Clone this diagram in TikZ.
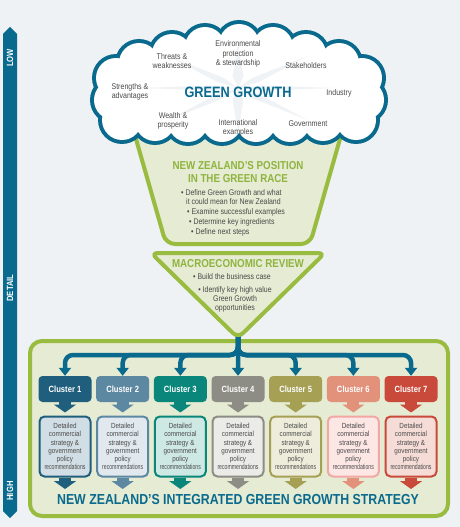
\documentclass[tikz,border=0pt]{standalone}
\usepackage{fontspec}
\usepackage{graphicx}
\setmainfont{Liberation Sans}[FakeStretch=0.85]
\usetikzlibrary{arrows.meta,calc}
\definecolor{bgc}{HTML}{EEF2F5}
\definecolor{nzblue}{HTML}{0A6A8E}
\definecolor{nzgreen}{HTML}{99BB3F}
\definecolor{paleg}{HTML}{E6EBD3}
\definecolor{titleg}{HTML}{8EB43F}
\definecolor{txtgray}{HTML}{4A4A4A}
\definecolor{rayc}{HTML}{F0F3F6}
\definecolor{cA}{HTML}{1F5E7C}\definecolor{fA}{HTML}{D2DEE5}
\definecolor{cB}{HTML}{5D88A2}\definecolor{fB}{HTML}{E1E9EF}
\definecolor{cC}{HTML}{0A867A}\definecolor{fC}{HTML}{CEE8E4}
\definecolor{cD}{HTML}{8E8D85}\definecolor{fD}{HTML}{EBEBE8}
\definecolor{cE}{HTML}{A6A055}\definecolor{fE}{HTML}{EEEDDC}
\definecolor{cF}{HTML}{E2917B}\definecolor{fF}{HTML}{FCE7E5}\definecolor{eF}{HTML}{F1A7A3}
\definecolor{cG}{HTML}{C9493B}\definecolor{fG}{HTML}{F5DCD7}
\newcommand{\puffs}{139/63,172/54,205/47,239/44,273/47,306/54,339/63,362/78,364/100,356/120,
	323/121,290/122,256/122,222/122,188/122,155/121,122/120,114/100,116/78}
\begin{document}
\begin{tikzpicture}[x=1pt, y=-1pt,
	lbl/.style={text=txtgray, font=\fontsize{8.3}{9.5}\selectfont, align=center, inner sep=0},
	bul/.style={text=txtgray, font=\fontsize{8.2}{10}\selectfont, anchor=west, inner sep=0},
	ttl/.style={text=titleg, font=\bfseries\fontsize{11.5}{12.5}\selectfont, align=center, inner sep=0},
	side/.style={rotate=90, text=white, font=\bfseries\fontsize{9}{10}\selectfont, inner sep=0},
	panel/.style={draw=nzgreen, line width=4pt, fill=paleg},
	tree/.style={draw=nzblue, line width=4.5pt, rounded corners=8pt, -{Triangle[width=12pt,length=8pt]}},
	head/.style={rounded corners=4pt, minimum width=53pt, minimum height=26pt, inner sep=0, text=white, font=\bfseries\fontsize{9}{10}\selectfont},
	detail/.style={rounded corners=5pt, line width=2pt, minimum width=51pt, minimum height=60pt, inner sep=0, text=txtgray, align=center, font=\fontsize{7.4}{8.2}\selectfont},
	block/.style={line width=12pt, -{Triangle[width=22pt,length=8pt]}},
]
	\useasboundingbox (0,0) rectangle (460,527);
	\fill[bgc] (0,0) rectangle (460,527);

	\fill[nzblue] (3,34) -- (10,27) -- (17,34) -- (17,511) -- (10,518) -- (3,511) -- cycle;
	\node[side] (low)    at (10,58)  {LOW};
	\node[side] (detail) at (10,288) {DETAIL};
	\node[side] (high)   at (10,491) {HIGH};

	\draw[panel, rounded corners=12pt] (30,341) rectangle (448,516);
	\draw[panel, rounded corners=9pt] (130,118) -- (346,118) -- (310,244) -- (166,244) -- cycle;

	\foreach \x/\y in \puffs \fill[nzblue] (\x,\y) circle[radius=24];
	\foreach \x/\y in \puffs \fill[white] (\x,\y) circle[radius=20];
	\fill[white] plot coordinates {(139,63) (172,54) (205,47) (239,44) (273,47) (306,54) (339,63) (362,78) (364,100) (356,120)
		(323,121) (290,122) (256,122) (222,122) (188,122) (155,121) (122,120) (114,100) (116,78)} -- cycle;
	\foreach \a in {0,45,...,315}
		\fill[rayc] (238,88) -- ($(238,88)+(\a-12:26 and 12)$) -- ($(238,88)+(\a:98 and 45)$) -- ($(238,88)+(\a+12:26 and 12)$) -- cycle;

	\node[text=nzblue, font=\bfseries\fontsize{15}{16}\selectfont, inner sep=0] (green) at (238,92) {GREEN GROWTH};
	\node[lbl] (env)    at (238,54)  {Environmental\\protection\\\& stewardship};
	\node[lbl] (threat) at (172,61)  {Threats \&\\weaknesses};
	\node[lbl] (stake)  at (306,66)  {Stakeholders};
	\node[lbl] (streng) at (130,92)  {Strengths \&\\advantages};
	\node[lbl] (indus)  at (339,93)  {Industry};
	\node[lbl] (wealth) at (173,121) {Wealth \&\\prosperity};
	\node[lbl] (intl)   at (238,128) {International\\examples};
	\node[lbl] (gov)    at (308,124) {Government};

	\node[ttl] (race) at (238,172) {NEW ZEALAND’S POSITION\\IN THE GREEN RACE};
	\node[bul] at (181,193) {\textbullet{} Define Green Growth and what};
	\node[bul] at (186,202) {it could mean for New Zealand};
	\node[bul] at (187,212) {\textbullet{} Examine successful examples};
	\node[bul] at (189,222) {\textbullet{} Determine key ingredients};
	\node[bul] at (191,232) {\textbullet{} Define next steps};

	\foreach \i/\hc/\fc/\ec in {1/cA/fA/cA,2/cB/fB/cB,3/cC/fC/cC,4/cD/fD/cD,5/cE/fE/cE,6/cF/fF/eF,7/cG/fG/cG} {
		\node[head, fill=\hc] (cl\i) at ({65+(\i-1)*57.67},389) {Cluster \i};
		\node[detail, draw=\ec, fill=\fc] (dt\i) at ({65+(\i-1)*57.67},446.5)
			{Detailed\\commercial\\strategy \&\\government\\policy\\\scalebox{0.82}[1]{recommendations}};
		\coordinate (end\i) at ({65+(\i-1)*57.67},489);
		\draw[block, \hc, shorten >=3pt] (cl\i) -- (dt\i);
		\draw[block, \hc] (dt\i) -- (end\i);
	}

	\coordinate (mrtip) at (238,334);
	\coordinate (bus) at (238,355);
	\foreach \i in {1,2,3,5,6,7}
		\draw[tree] (mrtip) |- (cl\i.north |- bus) -- (cl\i.north);
	\draw[tree] (mrtip) -- (cl4.north);

	\draw[panel, rounded corners=7pt] (151,253) -- (325,253) -- (238,338) -- cycle;
	\node[ttl] (macro) at (238,264) {MACROECONOMIC REVIEW};
	\node[bul] at (193,277) {\textbullet{} Build the business case};
	\node[bul, anchor=center, align=center, font=\fontsize{8.2}{9}\selectfont] at (235,299)
		{\textbullet{} Identify key high value\\Green Growth\\opportunities};

	\node[text=nzblue, font=\bfseries\fontsize{14.5}{16}\selectfont, inner sep=0] (strategy) at (238,500)
		{NEW ZEALAND’S INTEGRATED GREEN GROWTH STRATEGY};
\end{tikzpicture}
\end{document}
